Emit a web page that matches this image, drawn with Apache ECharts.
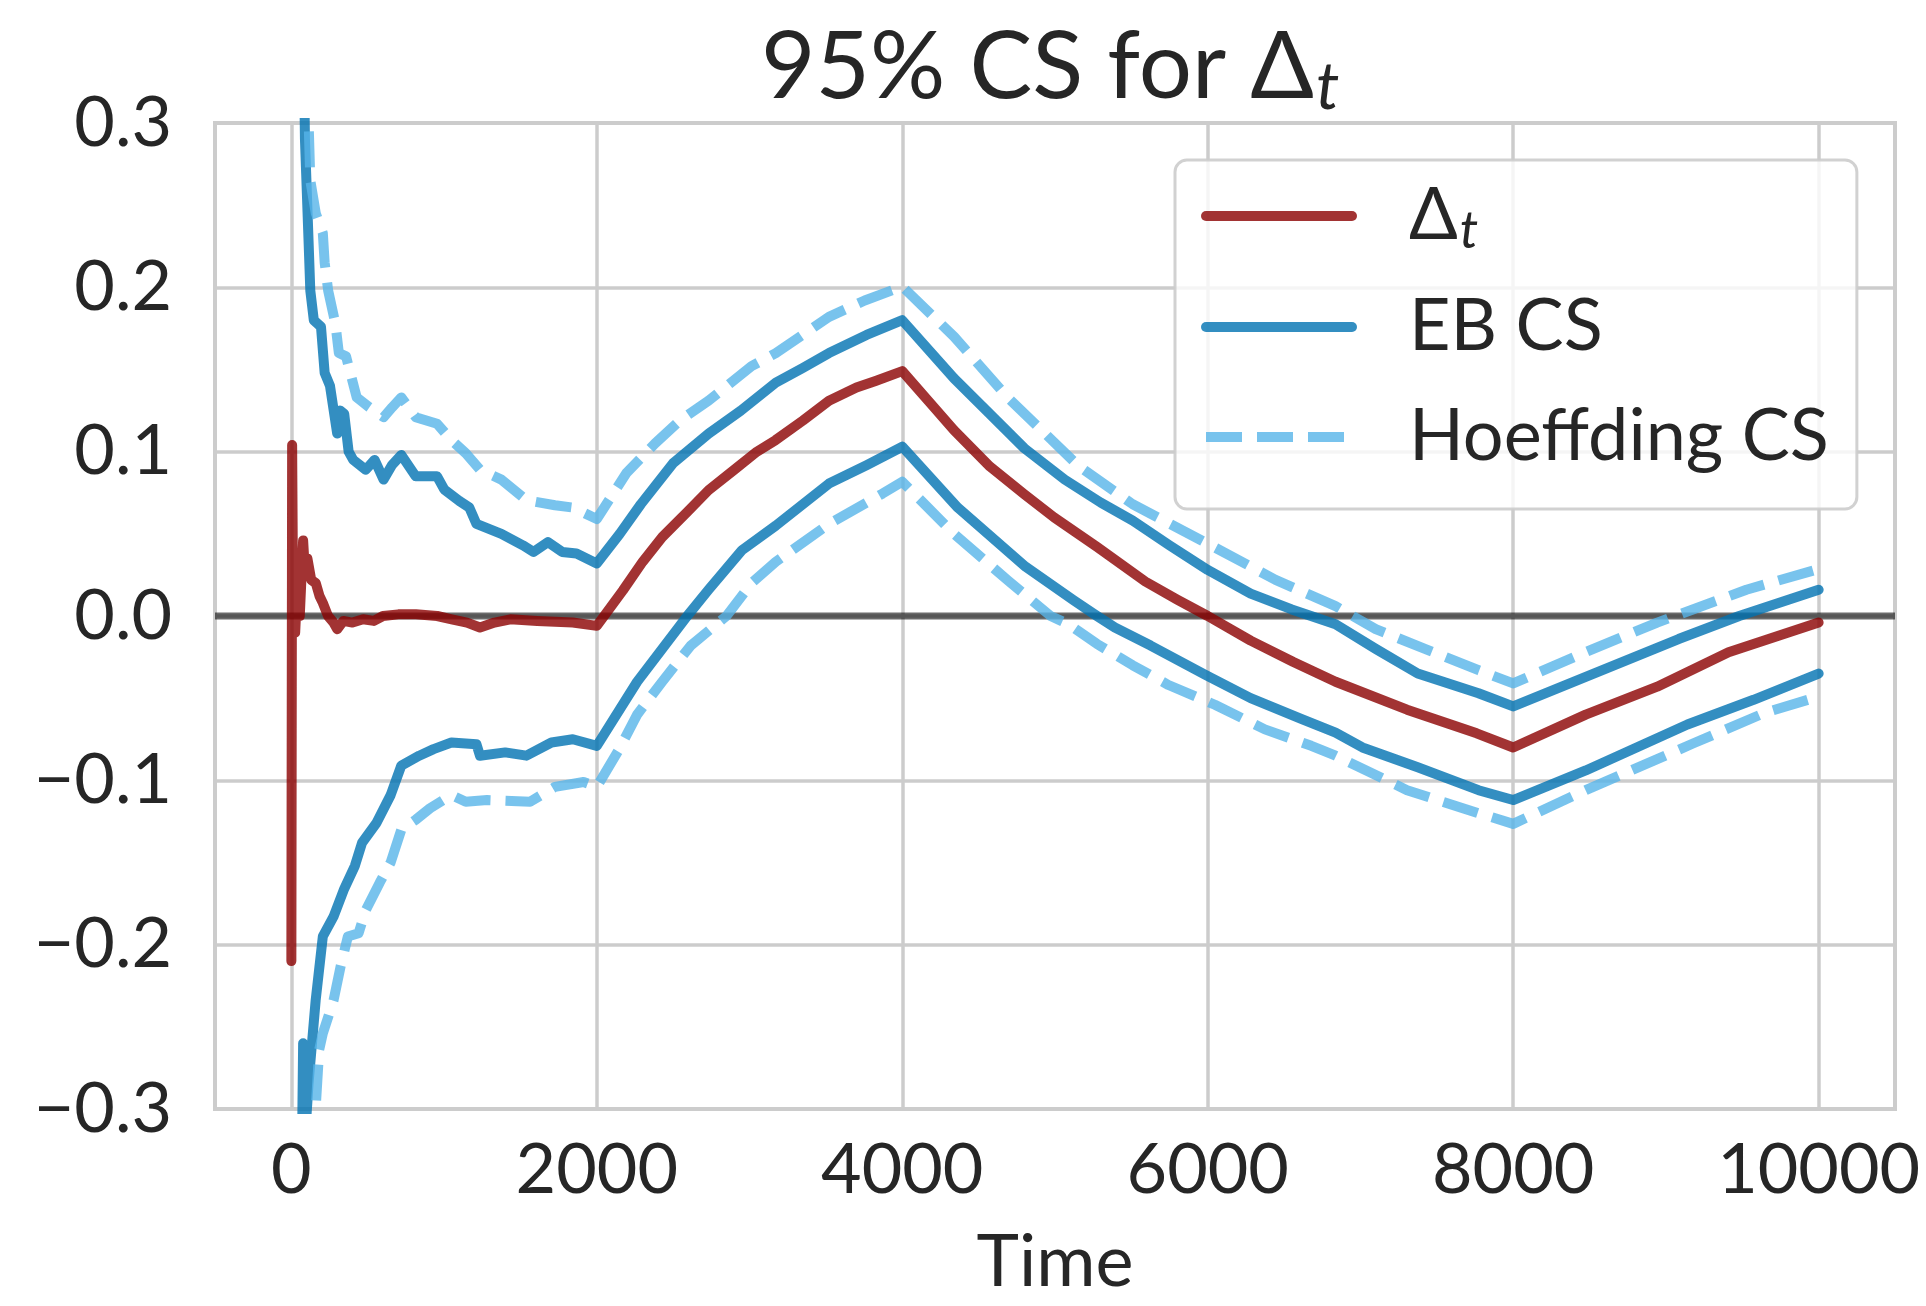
<!DOCTYPE html>
<html>
<head>
<meta charset="utf-8">
<script src="https://cdn.jsdelivr.net/npm/echarts@6/dist/echarts.min.js"></script>
<style>
  html, body { margin: 0; padding: 0; background: #fff; }
  #chart { width: 1926px; height: 1306px; }
</style>
</head>
<body>
<div id="chart"></div>
<script>
// [time, value] pairs
var deltaT = [
    [0, -0.21], [5, 0.104], [12, 0.0], [25, -0.01], [40, 0.02], [55, 0.0], [77, 0.046], [90, 0.025],
    [105, 0.035], [130, 0.022], [160, 0.02], [185, 0.012], [206, 0.008], [240, 0.0], [276, -0.004],
    [300, -0.008], [340, -0.003], [400, -0.004], [470, -0.002], [540, -0.003], [600, 0.0], [700, 0.001],
    [815, 0.001], [955, 0.0], [1050, -0.002], [1150, -0.004], [1235, -0.007], [1330, -0.004],
    [1434, -0.002], [1610, -0.003], [1843, -0.004], [2000, -0.006],
    [2171, 0.0156], [2300, 0.033], [2428, 0.048], [2600, 0.064], [2732, 0.0766], [2900, 0.089],
    [3048, 0.1], [3170, 0.107], [3350, 0.119], [3520, 0.131], [3700, 0.139], [3825, 0.143], [4000, 0.149],
    [4170, 0.131], [4339, 0.113], [4573, 0.091], [4800, 0.074], [4994, 0.06], [5275, 0.042],
    [5591, 0.021], [5800, 0.01], [6000, 0.0], [6281, -0.015], [6561, -0.028], [6837, -0.04],
    [7305, -0.057], [7761, -0.0714], [8000, -0.08], [8475, -0.06], [8943, -0.043], [9410, -0.022],
    [10000, -0.004]
];
var ebUpper = [
    [70, 0.42], [89, 0.29], [110, 0.235], [124, 0.198], [147, 0.18], [194, 0.176], [218, 0.148],
    [253, 0.14], [300, 0.111], [320, 0.125], [346, 0.123], [375, 0.1], [405, 0.095], [487, 0.089],
    [545, 0.095], [604, 0.083], [660, 0.092], [720, 0.098], [814, 0.085], [954, 0.085], [1001, 0.077],
    [1100, 0.07], [1165, 0.066], [1212, 0.056], [1375, 0.05], [1516, 0.043], [1586, 0.039],
    [1680, 0.045], [1773, 0.039], [1867, 0.038], [2000, 0.032],
    [2150, 0.05], [2288, 0.068], [2500, 0.093], [2732, 0.111], [2943, 0.125], [3172, 0.142],
    [3350, 0.151], [3520, 0.16], [3766, 0.171], [4000, 0.18],
    [4339, 0.1446], [4573, 0.123], [4800, 0.102], [5064, 0.083], [5300, 0.069], [5509, 0.058],
    [5750, 0.043], [6000, 0.028], [6281, 0.0136], [6550, 0.004], [6837, -0.005], [7100, -0.02],
    [7375, -0.035], [7773, -0.047], [8000, -0.055], [8475, -0.037], [9083, -0.014], [9480, 0.0],
    [10000, 0.016]
];
var ebLower = [
    [55, -0.45], [77, -0.26], [95, -0.31], [112, -0.285], [159, -0.234], [206, -0.195], [276, -0.183],
    [346, -0.166], [416, -0.152], [463, -0.138], [557, -0.126], [650, -0.109], [720, -0.091],
    [837, -0.085], [931, -0.081], [1048, -0.077], [1212, -0.078], [1235, -0.085], [1400, -0.083],
    [1539, -0.085], [1703, -0.077], [1843, -0.075], [2000, -0.079],
    [2264, -0.04], [2592, 0.0], [2732, 0.016], [2950, 0.04], [3172, 0.055], [3520, 0.0806],
    [3766, 0.0918], [4000, 0.103],
    [4363, 0.066], [4807, 0.03], [5123, 0.0095], [5275, 0.0], [5392, -0.007], [5626, -0.018],
    [5988, -0.036], [6281, -0.05], [6608, -0.0625], [6837, -0.071], [7013, -0.08], [7375, -0.092],
    [7773, -0.106], [8000, -0.112], [8475, -0.094], [9141, -0.066], [9574, -0.051], [10000, -0.035]
];
var hoefUpper = [
    [85, 0.45], [110, 0.31], [124, 0.265], [160, 0.245], [206, 0.233], [218, 0.215], [241, 0.198],
    [288, 0.178], [311, 0.16], [358, 0.158], [428, 0.133], [510, 0.127], [604, 0.121], [660, 0.127],
    [720, 0.133], [814, 0.121], [954, 0.117], [1048, 0.107], [1142, 0.099], [1235, 0.089],
    [1375, 0.083], [1539, 0.0705], [1726, 0.0674], [1843, 0.066], [2000, 0.059],
    [2194, 0.087], [2381, 0.105], [2545, 0.119], [2732, 0.131], [3013, 0.152], [3172, 0.16],
    [3520, 0.182], [3754, 0.192], [4000, 0.2005],
    [4339, 0.17], [4690, 0.133], [5158, 0.091], [5509, 0.068], [6000, 0.044], [6444, 0.022],
    [6837, 0.006], [7100, -0.008], [7422, -0.02], [7773, -0.033], [8000, -0.041], [8475, -0.022],
    [8943, -0.004], [9527, 0.016], [10000, 0.0286]
];
var hoefLower = [
    [130, -0.45], [159, -0.3], [182, -0.264], [206, -0.254], [276, -0.234], [323, -0.213],
    [370, -0.195], [440, -0.193], [487, -0.179], [580, -0.162], [650, -0.15], [720, -0.13],
    [814, -0.124], [908, -0.117], [1048, -0.109], [1142, -0.113], [1282, -0.112], [1563, -0.113],
    [1726, -0.104], [1913, -0.101], [2000, -0.104],
    [2147, -0.081], [2264, -0.06], [2428, -0.04], [2615, -0.018], [2849, 0.0], [3013, 0.02],
    [3172, 0.033], [3520, 0.056], [3871, 0.0745], [4000, 0.0817],
    [4339, 0.05], [4690, 0.0217], [4971, 0.0], [5088, -0.005], [5275, -0.017], [5509, -0.03],
    [5743, -0.042], [6047, -0.054], [6374, -0.069], [6678, -0.079], [6837, -0.085], [7305, -0.106],
    [7773, -0.12], [8000, -0.1265], [8475, -0.106], [9177, -0.0776], [9645, -0.059], [10000, -0.049]
];
var zeroLine = [[-500, 0], [10500, 0]];
var xTicks = [0, 2000, 4000, 6000, 8000, 10000];

var FONT = 'Lato';
var INK = '#262626';
var RED = '#8b0000', BLUE = '#0072B2', SKY = '#56B4E9';
var LW = 10;
var DASH = [36, 15];

var chart = echarts.init(document.getElementById('chart'));

function band(name, data, color, dashed) {
    return {
        name: name,
        type: 'line',
        data: data,
        showSymbol: false,
        symbol: 'none',
        clip: true,
        z: 3,
        lineStyle: {
            color: color,
            width: LW,
            opacity: 0.8,
            type: dashed ? DASH : 'solid',
            cap: dashed ? 'butt' : 'round',
            join: 'round'
        },
        itemStyle: { color: color, opacity: 0.8 }
    };
}

function legendItem(name, color, dashed) {
    return {
        name: name,
        itemStyle: { opacity: 0 },
        lineStyle: {
            color: color,
            width: LW,
            opacity: 0.8,
            type: dashed ? DASH : 'solid',
            cap: dashed ? 'butt' : 'round'
        }
    };
}

chart.setOption({
    backgroundColor: '#ffffff',
    animation: false,
    title: {
        text: '95% CS for {d|Δ}{s|t}',
        left: 756,
        top: 10,
        textStyle: {
            fontFamily: FONT,
            fontSize: 94,
            fontWeight: 'normal',
            color: INK,
            rich: {
                d: { fontFamily: FONT, fontSize: 94, color: INK },
                s: { fontFamily: FONT, fontSize: 66, color: INK, fontStyle: 'italic', padding: [40, 0, 0, 2] }
            }
        }
    },
    grid: { left: 215, top: 123, width: 1680, height: 986, show: true, borderColor: '#cccccc', borderWidth: 4, backgroundColor: 'transparent' },
    legend: {
        orient: 'vertical',
        left: 1175,
        top: 160,
        data: [
            legendItem('Δt', RED, false),
            legendItem('EB CS', BLUE, false),
            legendItem('Hoeffding CS', SKY, true)
        ],
        itemWidth: 146,
        itemHeight: 20,
        itemGap: 30,
        padding: [16, 28, 32, 26],
        backgroundColor: 'rgba(255,255,255,0.8)',
        borderColor: 'rgba(204,204,204,0.9)',
        borderWidth: 3,
        borderRadius: 12,
        itemStyle: { opacity: 0 },
        formatter: function (name) {
            return name === 'Δt' ? '{d|Δ}{s|t}' : name;
        },
        textStyle: {
            fontFamily: FONT,
            fontSize: 72,
            color: INK,
            lineHeight: 80,
            padding: [0, 0, 0, 52],
            rich: {
                d: { fontFamily: FONT, fontSize: 72, color: INK, lineHeight: 80 },
                s: { fontFamily: FONT, fontSize: 52, color: INK, fontStyle: 'italic', padding: [30, 0, 0, 2] }
            }
        }
    },
    xAxis: {
        type: 'value',
        min: -500,
        max: 10500,
        name: 'Time',
        nameLocation: 'middle',
        nameGap: 118,
        nameTextStyle: { fontFamily: FONT, fontSize: 72, color: INK },
        axisLine: { show: false, onZero: false },
        axisTick: { show: false, customValues: xTicks },
        axisLabel: {
            customValues: xTicks,
            fontFamily: FONT,
            fontSize: 70,
            color: INK,
            margin: 26,
            formatter: function (v) { return String(v); }
        },
        splitLine: { show: true, lineStyle: { color: '#cccccc', width: 3.5 } }
    },
    yAxis: {
        type: 'value',
        min: -0.3,
        max: 0.3,
        interval: 0.1,
        axisLine: { show: false },
        axisTick: { show: false },
        axisLabel: {
            fontFamily: FONT,
            fontSize: 70,
            color: INK,
            margin: 43,
            formatter: function (v) {
                var a = Math.abs(v).toFixed(1);
                return (v < -1e-9 ? '\u2212' : '') + a;
            }
        },
        splitLine: { show: true, lineStyle: { color: '#cccccc', width: 3.5 } }
    },
    series: [
        {
            name: 'zero',
            type: 'line',
            data: zeroLine,
            symbol: 'none',
            z: 2,
            silent: true,
            lineStyle: { color: 'rgba(0,0,0,0.58)', width: 7 }
        },
        band('Δt', deltaT, RED, false),
        band('EB CS', ebUpper, BLUE, false),
        band('EB CS', ebLower, BLUE, false),
        band('Hoeffding CS', hoefUpper, SKY, true),
        band('Hoeffding CS', hoefLower, SKY, true)
    ]
});
</script>
</body>
</html>
